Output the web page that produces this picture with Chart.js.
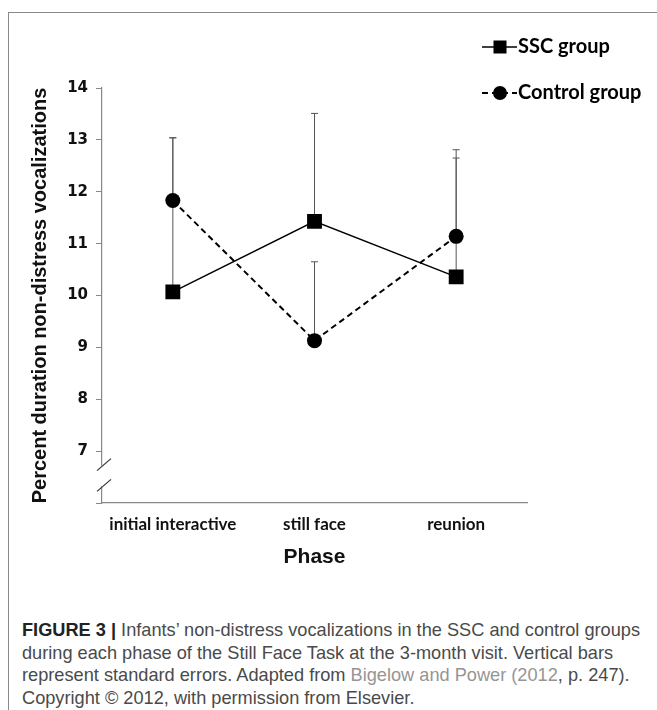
<!DOCTYPE html>
<html>
<head>
<meta charset="utf-8">
<script src="https://cdn.jsdelivr.net/npm/chart.js@4"></script>
<style>
    html, body { margin: 0; padding: 0; background: #fff; }
    body { width: 657px; height: 710px; position: relative; overflow: hidden; }
    .frame {
        position: absolute; left: 8px; top: 12px; right: 0; bottom: 0;
        border-top: 1px solid #8a8a8a; border-left: 1px solid #8a8a8a;
    }
    .chart-wrap { position: absolute; left: 0; top: 0; width: 657px; height: 600px; }
    .caption {
        position: absolute; left: 22px; top: 619px; width: 640px;
        font-family: "Liberation Sans", Arial, sans-serif; font-size: 18.2px;
        line-height: 22.5px; color: #4a4a4a; white-space: nowrap;
    }
    .caption b { color: #222; }
    .caption .ref { color: #959595; }
</style>
</head>
<body>
<div class="frame"></div>
<div class="chart-wrap"><canvas id="chart"></canvas></div>
<div class="caption"><b>FIGURE 3 |</b> Infants’ non-distress vocalizations in the SSC and control groups<br>during each phase of the Still Face Task at the 3-month visit. Vertical bars<br>represent standard errors. Adapted from <span class="ref">Bigelow and Power (2012</span>, p. 247).<br>Copyright © 2012, with permission from Elsevier.</div>

<script>
// ===== Data =====
const phases = ['initial interactive', 'still face', 'reunion'];
const sscMeans = [10.07, 11.43, 10.36];
const sscUpper = [13.04, 13.51, 12.65];
const controlMeans = [11.83, 9.13, 11.14];
const controlUpper = [13.04, 10.65, 12.81];
const yTicks = [6, 7, 8, 9, 10, 11, 12, 13, 14];

// Upward standard error bars
const errorBars = {
    id: 'errorBars',
    beforeDatasetsDraw(chart) {
        const { ctx, scales: { y } } = chart;
        ctx.save();
        ctx.strokeStyle = '#555';
        ctx.lineWidth = 1;
        chart.data.datasets.forEach((ds, i) => {
            const meta = chart.getDatasetMeta(i);
            meta.data.forEach((pt, j) => {
                const top = y.getPixelForValue(ds.upper[j]);
                ctx.beginPath();
                ctx.moveTo(pt.x, pt.y);
                ctx.lineTo(pt.x, top);
                ctx.moveTo(pt.x - 3.5, top);
                ctx.lineTo(pt.x + 3.5, top);
                ctx.stroke();
            });
        });
        ctx.restore();
    }
};

// Break marks on the y axis between 6 and 7
const axisBreak = {
    id: 'axisBreak',
    afterDraw(chart) {
        const { ctx, scales: { y } } = chart;
        const x = chart.chartArea.left;
        const a = y.getPixelForValue(6.72);
        const b = y.getPixelForValue(6.32);
        ctx.save();
        ctx.fillStyle = '#fff';
        ctx.fillRect(x - 2, a, 4, b - a);
        ctx.strokeStyle = '#333';
        ctx.lineWidth = 1.2;
        [a - 1, b - 1].forEach(cy => {
            ctx.beginPath();
            ctx.moveTo(x - 5, cy + 6);
            ctx.lineTo(x + 9, cy - 6);
            ctx.stroke();
        });
        ctx.restore();
    }
};

// Legend: line + marker + label, top right
const sideLegend = {
    id: 'sideLegend',
    afterDraw(chart) {
        const { ctx } = chart;
        const rows = [47, 93];
        ctx.save();
        chart.data.datasets.forEach((ds, i) => {
            const cy = rows[i];
            ctx.strokeStyle = '#000';
            ctx.lineWidth = ds.borderWidth;
            ctx.setLineDash(ds.borderDash || []);
            ctx.beginPath();
            ctx.moveTo(482, cy);
            ctx.lineTo(517, cy);
            ctx.stroke();
            ctx.setLineDash([]);
            ctx.fillStyle = '#000';
            if (ds.pointStyle === 'rect') {
                ctx.fillRect(500 - 6.5, cy - 6.5, 13, 13);
            } else {
                ctx.beginPath();
                ctx.arc(500, cy, 7, 0, Math.PI * 2);
                ctx.fill();
            }
            ctx.font = 'bold 20px Lato, sans-serif';
            ctx.textBaseline = 'middle';
            ctx.fillText(ds.label, 518, cy);
        });
        ctx.restore();
    }
};

new Chart(document.getElementById('chart').getContext('2d'), {
    type: 'line',
    data: {
        labels: phases,
        datasets: [
            {
                label: 'SSC group',
                data: sscMeans,
                upper: sscUpper,
                borderColor: '#000',
                borderWidth: 1.5,
                pointStyle: 'rect',
                pointRadius: 10.5,
                pointBackgroundColor: '#000',
                pointBorderWidth: 0,
                tension: 0
            },
            {
                label: 'Control group',
                data: controlMeans,
                upper: controlUpper,
                borderColor: '#000',
                borderWidth: 2,
                borderDash: [6, 4],
                pointStyle: 'circle',
                pointRadius: 7.5,
                pointBackgroundColor: '#000',
                pointBorderWidth: 0,
                tension: 0
            }
        ]
    },
    options: {
        responsive: true,
        maintainAspectRatio: false,
        animation: false,
        layout: { padding: { left: 0, top: 88, right: 130, bottom: 17 } },
        plugins: {
            legend: { display: false },
            tooltip: { enabled: false }
        },
        scales: {
            x: {
                offset: true,
                afterFit: s => { s.height = 80; },
                grid: { display: false, drawTicks: false },
                border: { display: true, color: '#888', width: 1.2 },
                ticks: {
                    color: '#111',
                    padding: 11,
                    font: { family: 'Lato', weight: 'bold', size: 17 }
                },
                title: {
                    display: true,
                    text: 'Phase',
                    color: '#111',
                    padding: { top: 0, bottom: 13 },
                    font: { family: 'Liberation Sans', weight: 'bold', size: 21 }
                }
            },
            y: {
                min: 6,
                max: 14,
                afterFit: s => { s.width = 102; },
                afterBuildTicks: s => { s.ticks = yTicks.map(v => ({ value: v })); },
                grid: { drawOnChartArea: false, drawTicks: true, tickLength: 6, color: '#888' },
                border: { display: true, color: '#888', width: 1.2 },
                ticks: {
                    color: '#111',
                    padding: 8,
                    font: { family: 'DejaVu Sans', weight: 'bold', size: 15 },
                    callback: v => (v === 6 ? '' : v)
                },
                title: {
                    display: true,
                    text: 'Percent duration non-distress vocalizations',
                    color: '#111',
                    padding: { top: 28, bottom: 0 },
                    font: { family: 'Liberation Sans', weight: 'bold', size: 20 }
                }
            }
        }
    },
    plugins: [errorBars, axisBreak, sideLegend]
});
</script>
</body>
</html>
